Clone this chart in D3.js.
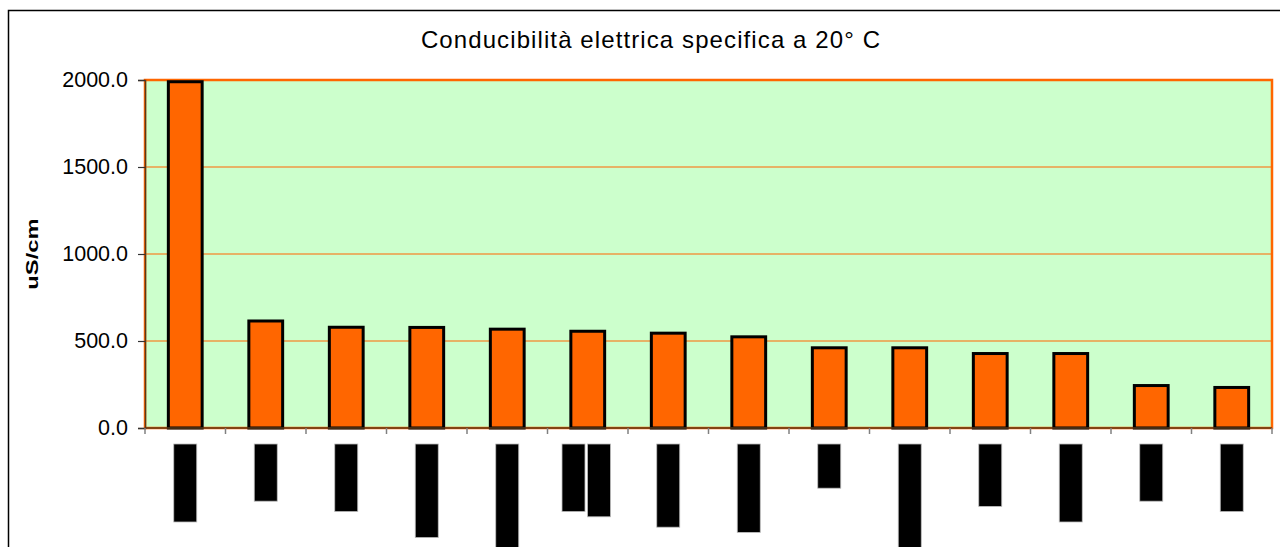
<!DOCTYPE html>
<html>
<head>
<meta charset="utf-8">
<script src="https://cdn.jsdelivr.net/npm/d3@7"></script>
<style>
  html, body { margin: 0; padding: 0; background: #fff; }
  svg { display: block; font-family: "Liberation Sans", Arial, sans-serif; }
</style>
</head>
<body>
<svg id="chart" width="1280" height="547"></svg>
<script>
// Sampling points (their names are blacked out on the axis)
const categories = ["S01","S02","S03","S04","S05","S06","S07","S08","S09","S10","S11","S12","S13","S14"];
// Specific electrical conductivity at 20 °C, uS/cm
const conductivity = [1990, 615, 579, 578, 568, 556, 545, 524, 461, 461, 428, 428, 244, 233];
// Redacted label lines: character count of each line of the category name
const labelLineChars = [[15],[11],[13],[18],[21],[13,14],[16],[17],[8.5],[21],[12],[15],[11],[13]];
const yTicks = [0, 500, 1000, 1500, 2000];

const title = "Conducibilità elettrica specifica a 20° C";
const yTitle = "uS/cm";

const svg = d3.select("#chart");
const W = 1280, H = 547;
const plot = { left: 145, right: 1272, top: 80, bottom: 428 };

// outer chart frame
svg.append("rect")
  .attr("x", 8.5).attr("y", 10.5)
  .attr("width", W + 20).attr("height", H + 20)
  .attr("fill", "#fff").attr("stroke", "#000").attr("stroke-width", 1.5);

const x = d3.scaleBand().domain(categories).range([plot.left, plot.right]).padding(0);
const y = d3.scaleLinear().domain([0, 2000]).range([plot.bottom, plot.top]);

// plot background
svg.append("rect")
  .attr("x", plot.left).attr("y", plot.top)
  .attr("width", plot.right - plot.left).attr("height", plot.bottom - plot.top)
  .attr("fill", "#CCFFCC");

// gridlines
svg.append("g").selectAll("line")
  .data(yTicks.filter(d => d > 0 && d < 2000))
  .join("line")
  .attr("x1", plot.left).attr("x2", plot.right)
  .attr("y1", d => y(d)).attr("y2", d => y(d))
  .attr("stroke", "#FF6600").attr("stroke-width", 1.2);

// plot border
svg.append("rect")
  .attr("x", plot.left).attr("y", plot.top)
  .attr("width", plot.right - plot.left).attr("height", plot.bottom - plot.top)
  .attr("fill", "none").attr("stroke", "#FF6600").attr("stroke-width", 2.5);

// bars
const barW = x.bandwidth() * 0.42;
svg.append("g").selectAll("rect")
  .data(conductivity)
  .join("rect")
  .attr("x", (d, i) => x(categories[i]) + (x.bandwidth() - barW) / 2)
  .attr("y", d => y(d))
  .attr("width", barW)
  .attr("height", d => y(0) - y(d))
  .attr("fill", "#FF6600")
  .attr("stroke", "#000").attr("stroke-width", 3);

// y axis
const yAxis = svg.append("g")
  .attr("transform", `translate(${plot.left},0)`)
  .call(d3.axisLeft(y).tickValues(yTicks).tickFormat(d3.format(".1f")).tickSize(7).tickPadding(10));
yAxis.select(".domain").attr("stroke", "#5a3a1a").attr("stroke-width", 1.5);
yAxis.selectAll(".tick line").attr("stroke", "#333").attr("stroke-width", 1.2);
yAxis.selectAll(".tick text").attr("font-size", 21.5).attr("fill", "#000")
  .attr("font-family", "'Liberation Sans', Arial, sans-serif");

// x axis (ticks at category boundaries)
const xAxisG = svg.append("g");
xAxisG.append("line")
  .attr("x1", plot.left).attr("x2", plot.right)
  .attr("y1", y(0)).attr("y2", y(0))
  .attr("stroke", "#5a3a1a").attr("stroke-width", 1.5);
const boundaries = categories.map(c => x(c)).concat([x(categories[categories.length - 1]) + x.bandwidth()]);
xAxisG.selectAll("line.tick")
  .data(boundaries)
  .join("line").attr("class", "tick")
  .attr("x1", d => d).attr("x2", d => d)
  .attr("y1", y(0)).attr("y2", y(0) + 6)
  .attr("stroke", "#808080").attr("stroke-width", 1.5);

// redacted category labels (rotated text hidden under black bars)
const charW = 5.2, lineGap = 25.5, boxW = 23, labelTop = y(0) + 16;
const labelG = svg.append("g");
categories.forEach((c, i) => {
  const lines = labelLineChars[i];
  const cx = x(c) + x.bandwidth() / 2;
  lines.forEach((n, j) => {
    const off = (j - (lines.length - 1) / 2) * lineGap - (lines.length > 1 ? 1.5 : 0);
    labelG.append("rect")
      .attr("x", cx + off - boxW / 2)
      .attr("y", labelTop)
      .attr("width", boxW)
      .attr("height", n * charW)
      .attr("fill", "#000")
      .attr("stroke", "#bdbdbd").attr("stroke-width", 0.8);
  });
});

// title
svg.append("text")
  .attr("x", 651).attr("y", 48)
  .attr("text-anchor", "middle")
  .attr("font-size", 24)
  .attr("letter-spacing", 1.1)
  .attr("fill", "#000")
  .text(title);

// y axis title
svg.append("text")
  .attr("transform", `translate(38,254) rotate(-90) scale(1.25,0.9)`)
  .attr("text-anchor", "middle")
  .attr("font-size", 19)
  .attr("font-weight", "bold")
  .attr("fill", "#000")
  .text(yTitle);
</script>
</body>
</html>
